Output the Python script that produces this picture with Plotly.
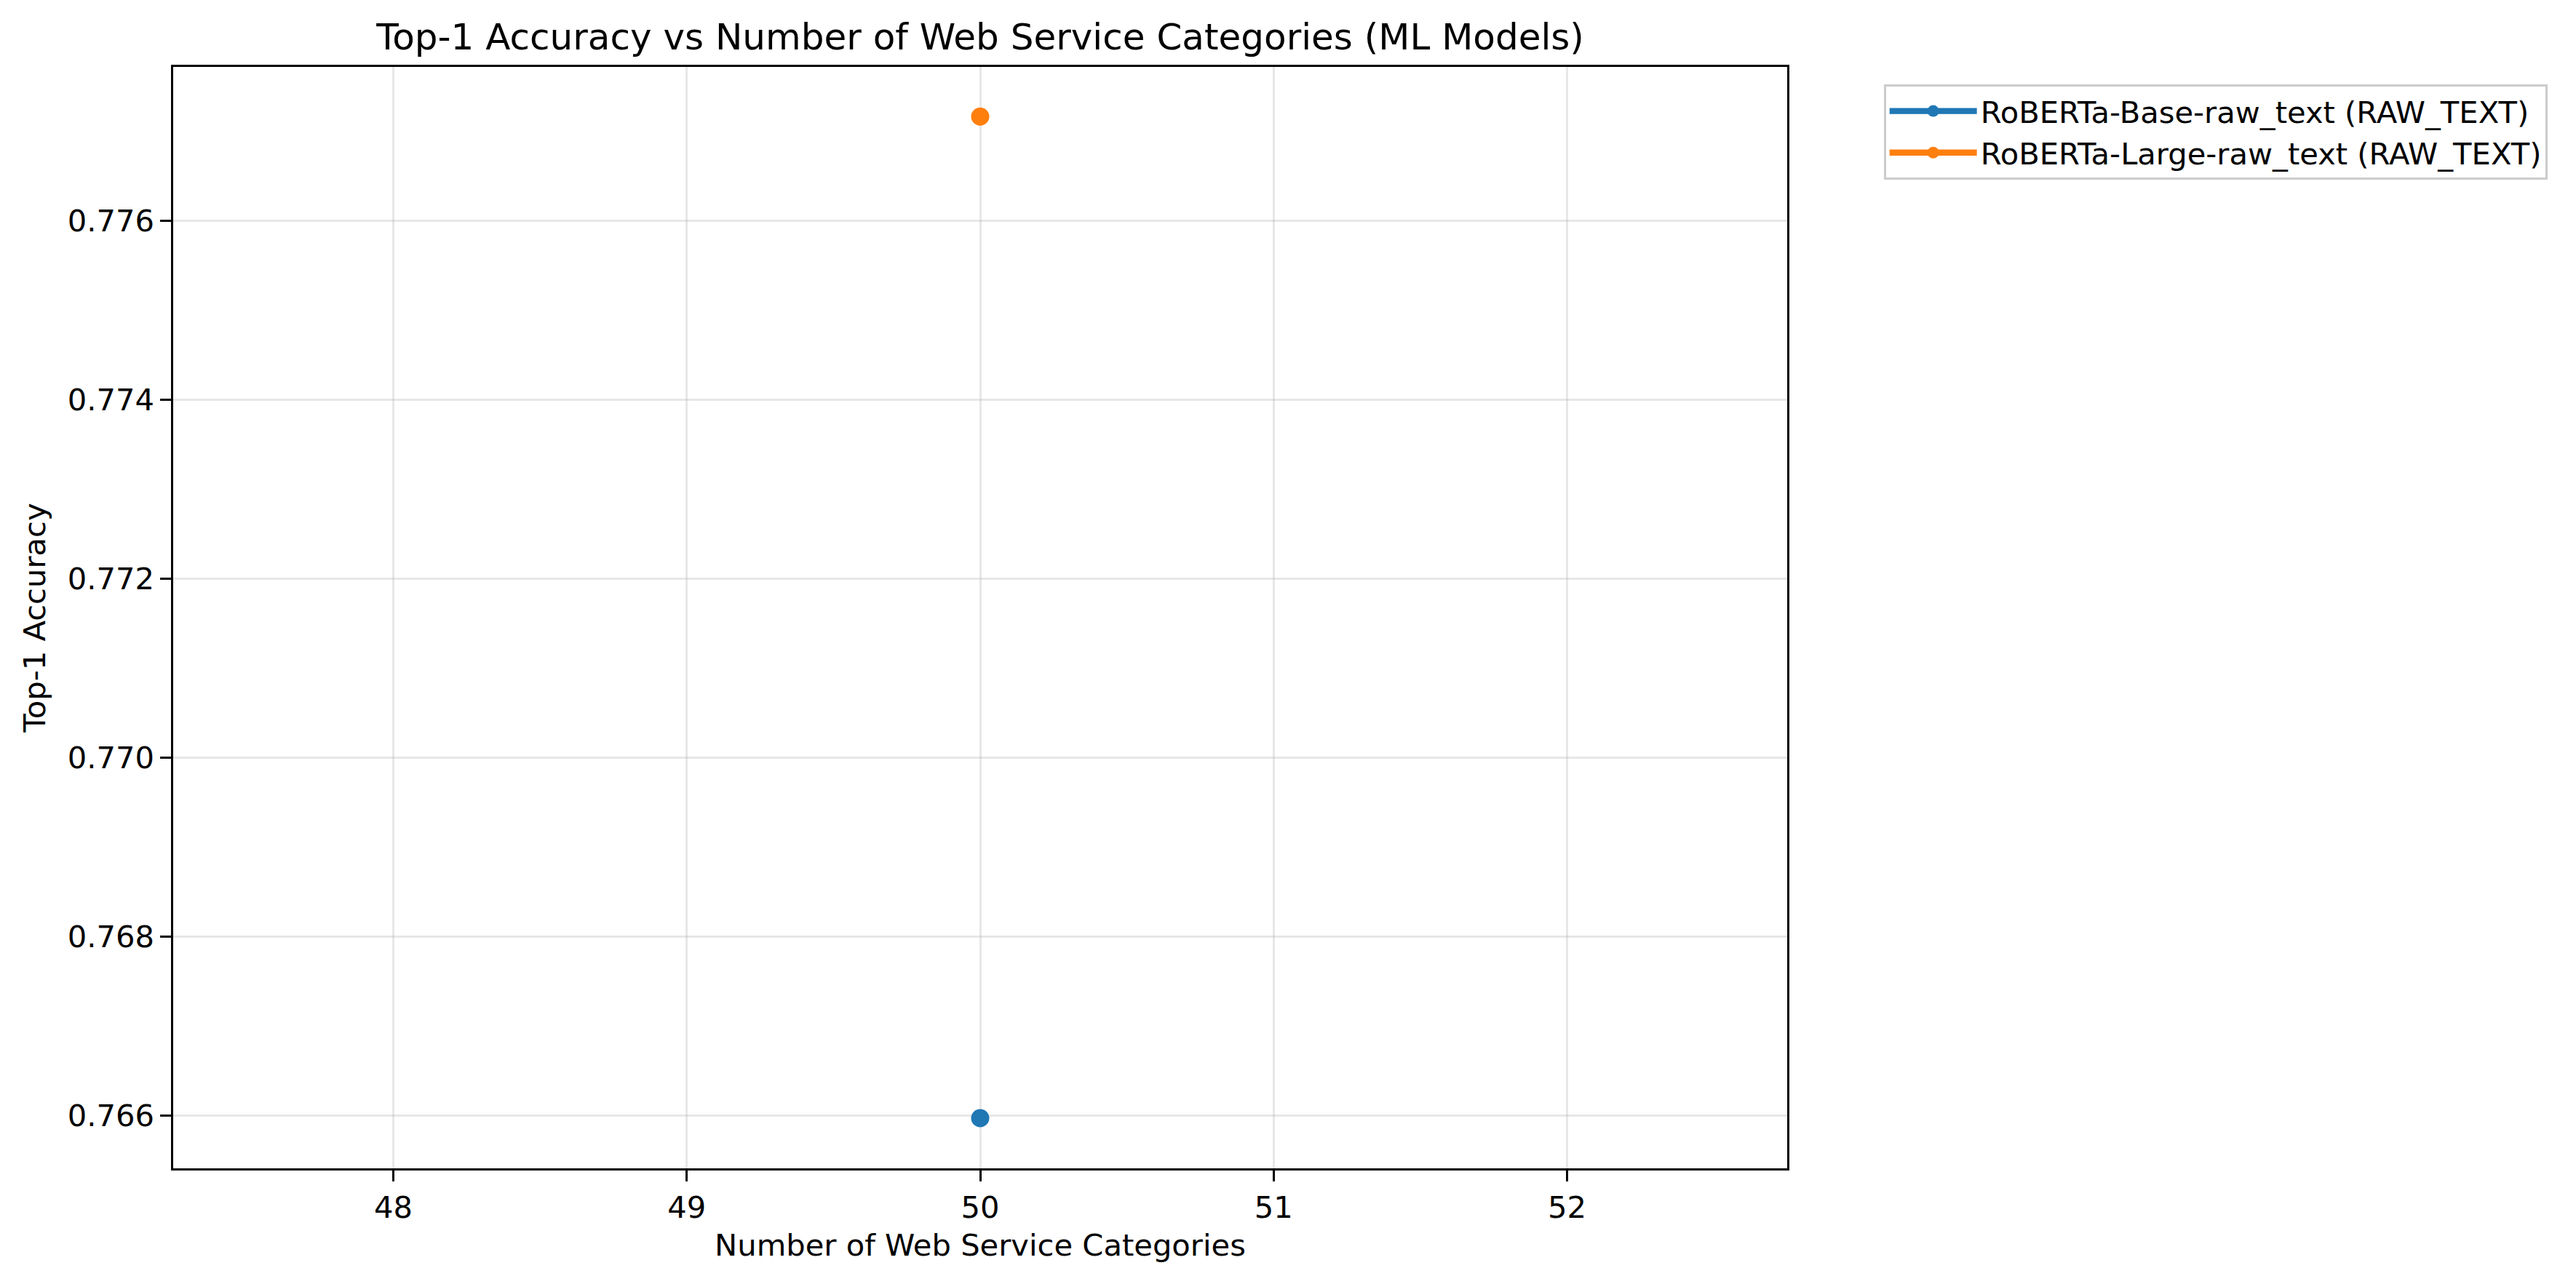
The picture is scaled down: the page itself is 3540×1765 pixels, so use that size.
import plotly.graph_objects as go

# Data
categories_count = [50]
models = ["RoBERTa-Base-raw_text (RAW_TEXT)", "RoBERTa-Large-raw_text (RAW_TEXT)"]
base_acc = [0.76597]
large_acc = [0.77716]
colors = ["#1f77b4", "#ff7f0e"]
x_ticks = [48, 49, 50, 51, 52]
y_ticks = [0.766, 0.768, 0.770, 0.772, 0.774, 0.776]

W, H = 3540, 1765
L, R, T, B = 237.6, 2456.3, 92, 1605.7
PT = 300 / 72

fig = go.Figure()
for name, ys, c in zip(models, [base_acc, large_acc], colors):
    fig.add_trace(go.Scatter(
        x=categories_count, y=ys, name=name, mode="lines+markers",
        line=dict(color=c, width=2 * PT),
        marker=dict(color=c, size=6 * PT, symbol="circle"),
    ))

font = "DejaVu Sans, Arial, sans-serif"
axis_common = dict(
    showline=True, mirror=True, linecolor="black", linewidth=0.8 * PT,
    ticks="outside", ticklen=3.5 * PT, tickwidth=0.8 * PT, tickcolor="black",
    showgrid=True, gridcolor="rgba(176,176,176,0.3)", gridwidth=0.8 * PT,
    zeroline=False, tickfont=dict(family=font, size=10 * PT, color="black"),
)

fig.update_layout(
    width=W, height=H,
    margin=dict(l=L, r=W - R, t=T, b=H - B, autoexpand=False),
    paper_bgcolor="white", plot_bgcolor="white",
    font=dict(family=font, size=10 * PT, color="black"),
    title=dict(text="Top-1 Accuracy vs Number of Web Service Categories (ML Models)",
               x=0.5, xref="paper", xanchor="center",
               y=1 - 50 / H, yref="container", yanchor="middle",
               font=dict(family=font, size=12 * PT, color="black")),
    xaxis=dict(range=[47.25, 52.75], tickvals=x_ticks,
               title=dict(text="Number of Web Service Categories", standoff=15,
                          font=dict(family=font, size=10 * PT, color="black")),
               **axis_common),
    yaxis=dict(range=[0.765409, 0.777715], tickvals=y_ticks, tickformat=".3f",
               title=dict(text="Top-1 Accuracy", standoff=18,
                          font=dict(family=font, size=10 * PT, color="black")),
               **axis_common),
    legend=dict(x=(2589 - L) / (R - L), y=(B - 116) / (B - T),
                xanchor="left", yanchor="top",
                bordercolor="#cccccc", borderwidth=3, bgcolor="white",
                font=dict(family=font, size=10 * PT, color="black"),
                itemwidth=120),
    showlegend=True,
)

fig.write_html("out.html")
